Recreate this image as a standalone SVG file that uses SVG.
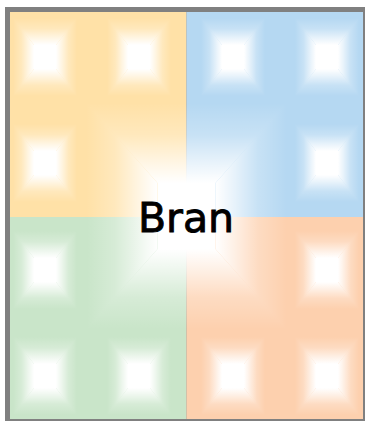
<svg xmlns="http://www.w3.org/2000/svg" xmlns:xlink="http://www.w3.org/1999/xlink" width="365" height="421" viewBox="0 0 365 421">
  <style>
    .label { font-family: "Comic Sans MS", "DejaVu Sans", sans-serif; font-size: 41px; fill: #000; stroke: #000; stroke-width: 0.9px; }
  </style>
  <defs>
    <linearGradient id="gT" x1="0" y1="0" x2="0" y2="1">
      <stop offset="0" stop-color="#fff" stop-opacity="0"/>
      <stop offset="0.4" stop-color="#fff" stop-opacity="0.25"/>
      <stop offset="0.75" stop-color="#fff" stop-opacity="0.7"/>
      <stop offset="1" stop-color="#fff" stop-opacity="1"/>
    </linearGradient>
    <linearGradient id="gB" xlink:href="#gT" x1="0" y1="1" x2="0" y2="0"/>
    <linearGradient id="gL" xlink:href="#gT" x1="0" y1="0" x2="1" y2="0"/>
    <linearGradient id="gR" xlink:href="#gT" x1="1" y1="0" x2="0" y2="0"/>
    <g id="glow">
      <polygon points="-32,-39 32,-39 11,-12 -11,-12" fill="url(#gT)"/>
      <polygon points="-32,39 32,39 11,12 -11,12" fill="url(#gB)"/>
      <polygon points="-32,-39 -11,-12 -11,12 -32,39" fill="url(#gL)"/>
      <polygon points="32,-39 11,-12 11,12 32,39" fill="url(#gR)"/>
      <rect x="-11" y="-12" width="22" height="24" fill="#fff"/>
    </g>
  </defs>

  <g id="frame">
    <rect x="5" y="7" width="365" height="420" fill="#808080"/>
  </g>

  <g id="quadrants">
    <rect id="q-orange" x="10" y="12" width="176.5" height="205" fill="#ffe1a7"/>
    <rect id="q-blue" x="186.5" y="12" width="176.5" height="205" fill="#b5d8f2"/>
    <rect id="q-green" x="10" y="217" width="176.5" height="202" fill="#c9e5c9"/>
    <rect id="q-peach" x="186.5" y="217" width="176.5" height="202" fill="#fdd0ae"/>
  </g>

  <g id="tiles">
    <use xlink:href="#glow" x="45" y="57"/>
    <use xlink:href="#glow" x="139" y="57"/>
    <use xlink:href="#glow" x="45" y="163"/>
    <use xlink:href="#glow" x="233" y="57"/>
    <use xlink:href="#glow" x="327" y="57"/>
    <use xlink:href="#glow" x="327" y="163"/>
    <use xlink:href="#glow" x="45" y="270"/>
    <use xlink:href="#glow" x="45" y="376"/>
    <use xlink:href="#glow" x="139" y="376"/>
    <use xlink:href="#glow" x="327" y="270"/>
    <use xlink:href="#glow" x="233" y="376"/>
    <use xlink:href="#glow" x="327" y="376"/>
  </g>

  <g id="bran">
    <g transform="translate(186.5,216)">
      <polygon points="-100,-113 100,-113 29,-33 -29,-33" fill="url(#gT)"/>
      <polygon points="-100,113 100,113 29,33 -29,33" fill="url(#gB)"/>
      <polygon points="-100,-113 -29,-33 -29,33 -100,113" fill="url(#gL)"/>
      <polygon points="100,-113 29,-33 29,33 100,113" fill="url(#gR)"/>
      <rect x="-29" y="-33" width="58" height="66" fill="#fff"/>
    </g>
    <text class="label" x="186" y="232" text-anchor="middle">Bran</text>
  </g>

  <g id="connectors"/>
</svg>
